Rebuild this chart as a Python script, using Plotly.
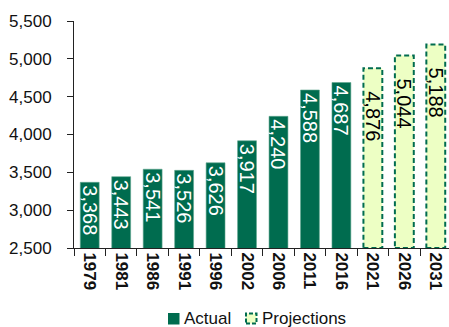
import plotly.graph_objects as go

# Population by census year (actual) and projected years
actual_years = ["1979", "1981", "1986", "1991", "1996", "2002", "2006", "2011", "2016"]
actual_values = [3368, 3443, 3541, 3526, 3626, 3917, 4240, 4588, 4687]
proj_years = ["2021", "2026", "2031"]
proj_values = [4876, 5044, 5188]
all_years = actual_years + proj_years

y_ticks = [2500, 3000, 3500, 4000, 4500, 5000, 5500]

DARK = "#006C4F"
LIGHT = "#EDFFC4"
FONT = "Liberation Sans, Arial, sans-serif"
BAR_WIDTH = 0.6

fig = go.Figure()

fig.add_trace(go.Bar(
    x=actual_years, y=actual_values, name="Actual",
    width=BAR_WIDTH,
    marker=dict(color=DARK, line=dict(color="#5FA68E", width=0.6)),
    text=[f"{v:,}" for v in actual_values],
    textposition="inside", insidetextanchor="end", textangle=90,
    constraintext="none",
    insidetextfont=dict(family=FONT, size=20, color="white"),
))

fig.add_trace(go.Bar(
    x=proj_years, y=proj_values, name="Projections",
    width=BAR_WIDTH,
    marker=dict(color=LIGHT, line=dict(width=0)),
    text=["\u2003" + f"{v:,}" for v in proj_values],
    textposition="inside", insidetextanchor="end", textangle=90,
    constraintext="none",
    insidetextfont=dict(family=FONT, size=20, color="black"),
))

# Dashed outline around each projection bar, taken from the bar values
for year, val in zip(proj_years, proj_values):
    i = all_years.index(year)
    fig.add_shape(type="rect", xref="x", yref="y", layer="above",
                  x0=i - BAR_WIDTH / 2, x1=i + BAR_WIDTH / 2,
                  y0=y_ticks[0], y1=val,
                  line=dict(color=DARK, width=2, dash="5px,3px"))

fig.update_layout(
    width=449, height=327,
    margin=dict(l=74, r=0, t=21, b=79),
    plot_bgcolor="white", paper_bgcolor="white",
    barmode="overlay",
    showlegend=False,
    font=dict(family=FONT, color="#111111"),
)

fig.update_xaxes(
    type="category", categoryorder="array", categoryarray=all_years,
    range=[-0.5, 11.42],
    tickangle=90, tickson="boundaries",
    ticks="outside", ticklen=7, tickcolor="#222222",
    showline=True, linecolor="#222222", linewidth=1,
    showgrid=False,
    tickfont=dict(family=FONT, size=17, color="#111111", weight="bold"),
)

fig.update_yaxes(
    range=[2500, 5500], tickvals=y_ticks,
    tickformat=",d",
    ticks="outside", ticklen=6, tickcolor="#222222",
    showline=True, linecolor="#222222", linewidth=1,
    showgrid=False, zeroline=False,
    ticklabelstandoff=12,
    tickfont=dict(family=FONT, size=17, color="#111111"),
)

# Legend drawn below the axis
px0, pw, py0, ph = 74, 375, 248, 227
def xp(px):
    return (px - px0) / pw
def yp(py):
    return (py0 - py) / ph

fig.add_shape(type="rect", xref="paper", yref="paper",
              x0=xp(168), x1=xp(179.5), y0=yp(324.5), y1=yp(313),
              fillcolor=DARK, line=dict(width=0))
fig.add_shape(type="rect", xref="paper", yref="paper",
              x0=xp(246), x1=xp(256.5), y0=yp(323.5), y1=yp(313.5),
              fillcolor=LIGHT, line=dict(color=DARK, width=2, dash="4px,2px"))
fig.add_annotation(text="Actual", xref="paper", yref="paper",
                   x=xp(182), y=yp(318.5), xanchor="left", yanchor="middle",
                   showarrow=False, font=dict(family=FONT, size=17, color="#111111"))
fig.add_annotation(text="Projections", xref="paper", yref="paper",
                   x=xp(260), y=yp(318.5), xanchor="left", yanchor="middle",
                   showarrow=False, font=dict(family=FONT, size=17, color="#111111"))

fig.write_html("out.html")
